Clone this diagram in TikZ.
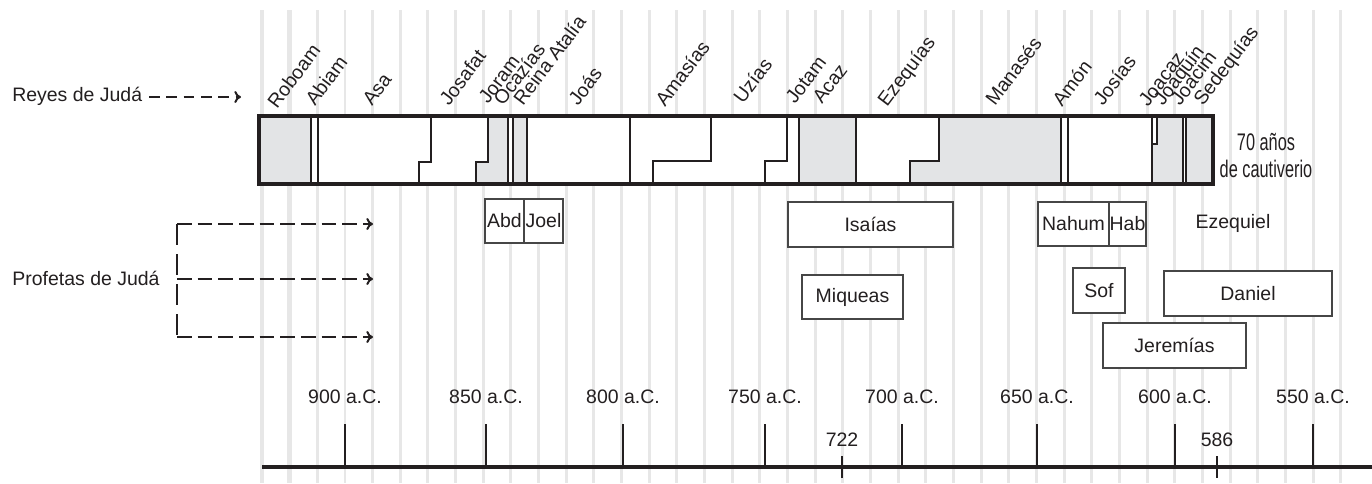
\documentclass[tikz,border=0pt]{standalone}
\usepackage{fontspec}
\setmainfont{Liberation Sans}
\newfontfamily\narrowfont[FakeStretch=0.68]{Liberation Sans}
\usetikzlibrary{arrows.meta}
\definecolor{ink}{RGB}{35,31,32}
\definecolor{gridc}{RGB}{231,231,231}
\definecolor{barfill}{RGB}{227,228,230}
\definecolor{boxline}{RGB}{70,70,70}
\begin{document}
\begin{tikzpicture}[x=0.75pt,y=-0.75pt,
  font=\fontsize{14.6}{17}\selectfont, text=ink,
  gridline/.style={draw=gridc, line width=2.2pt},
  gridthick/.style={draw=gridc, line width=3.6pt},
  kinglbl/.style={rotate=53, anchor=base west, inner sep=0pt},
  yearlbl/.style={inner sep=0pt},
  pbox/.style={draw=boxline, fill=white, line width=0.8pt, minimum height=33pt, inner sep=0pt},
  pboxb/.style={pbox, line width=1.3pt},
  barline/.style={draw=ink, line width=1.4pt},
  barframe/.style={draw=ink, line width=2.4pt},
  graypart/.style={fill=barfill},
  axisline/.style={draw=ink, line width=3pt},
  majortick/.style={draw=ink, line width=2.2pt},
  minortick/.style={draw=ink, line width=2pt},
  reyarrow/.style={draw=ink, line width=1.5pt, dash pattern=on 8pt off 5pt, -{To[length=5pt,width=9pt]}},
  profarrow/.style={draw=ink, line width=1.5pt, dash pattern=on 11pt off 4.5pt, -{To[length=5pt,width=9pt]}},
  profbar/.style={draw=ink, line width=2.2pt, dash pattern=on 16pt off 6.5pt}
]
\useasboundingbox (0,0) rectangle (1372,483);
\fill[white] (0,0) rectangle (1372,483);

% grid
\foreach \i in {2,...,39} \draw[gridline] ({262+27.66*\i},10) -- ({262+27.66*\i},483);
\draw[gridthick] (262,10) -- (262,483);
\draw[gridthick] (289.7,10) -- (289.7,483);

% reign bar
\fill[white] (259,116) rectangle (1213,184);
\fill[graypart] (259,116) rectangle (311,184);
\fill[graypart] (488,116) -- (508,116) -- (508,184) -- (476,184) -- (476,162) -- (488,162) -- cycle;
\fill[graypart] (513,116) rectangle (527,184);
\fill[graypart] (799,116) rectangle (856,184);
\fill[graypart] (939,116) -- (1061,116) -- (1061,184) -- (910,184) -- (910,161) -- (939,161) -- cycle;
\fill[graypart] (1152,116) rectangle (1183,184);
\fill[graypart] (1186,116) rectangle (1213,184);

\draw[barline] (311,116) -- (311,184);
\draw[barline] (318,116) -- (318,184);
\draw[barline] (431,116) -- (431,162) -- (419,162) -- (419,184);
\draw[barline] (488,116) -- (488,162) -- (476,162) -- (476,184);
\draw[barline] (508,116) -- (508,184);
\draw[barline] (513,116) -- (513,184);
\draw[barline] (527,116) -- (527,184);
\draw[barline] (630,116) -- (630,184);
\draw[barline] (711,116) -- (711,161) -- (653,161) -- (653,184);
\draw[barline] (787,116) -- (787,161) -- (765,161) -- (765,184);
\draw[barline] (799,116) -- (799,184);
\draw[barline] (856,116) -- (856,184);
\draw[barline] (939,116) -- (939,161) -- (910,161) -- (910,184);
\draw[barline] (1061,116) -- (1061,184);
\draw[barline] (1068,116) -- (1068,184);
\draw[barline] (1152,116) -- (1152,184);
\draw[draw=ink, line width=1pt, fill=white] (1152,116) rectangle (1157,144);
\draw[barline] (1183,116) -- (1183,184);
\draw[barline] (1186,116) -- (1186,184);
\draw[barframe] (259,116) rectangle (1213,184);

% king labels
\node[kinglbl] (k1) at (277,110) {Roboam};
\node[kinglbl] (k2) at (315,107) {Abiam};
\node[kinglbl] (k3) at (372,107) {Asa};
\node[kinglbl] (k4) at (449,107) {Josafat};
\node[kinglbl] (k5) at (488,105) {Joram};
\node[kinglbl] (k6) at (503,107) {Ocazías};
\node[kinglbl] (k7) at (523,107) {Reina Atalía};
\node[kinglbl] (k8) at (578,107) {Joás};
\node[kinglbl] (k9) at (665,108) {Amasías};
\node[kinglbl] (k10) at (743,105) {Uzías};
\node[kinglbl] (k11) at (795,105) {Jotam};
\node[kinglbl] (k12) at (822,105) {Acaz};
\node[kinglbl] (k13) at (887,108) {Ezequías};
\node[kinglbl] (k14) at (995,107) {Manasés};
\node[kinglbl] (k15) at (1062,108) {Amón};
\node[kinglbl] (k16) at (1103,107) {Josías};
\node[kinglbl] (k17) at (1148,108) {Joacaz};
\node[kinglbl] (k18) at (1163,107) {Joaquín};
\node[kinglbl] (k19) at (1180,107) {Joacim};
\node[kinglbl] (k20) at (1203,107) {Sedequías};

% captivity note
\node[anchor=base, inner sep=0pt, font=\narrowfont\fontsize{18}{20}\selectfont] (cau1) at (1266,150) {70 años};
\node[anchor=base, inner sep=0pt, font=\narrowfont\fontsize{18}{20}\selectfont] (cau2) at (1266,177) {de cautiverio};

% side labels and arrows
\node[anchor=west, inner sep=0pt] (reyes) at (12,96) {Reyes de Judá};
\coordinate (reyesend) at (241,97);
\draw[reyarrow] ([xshift=5pt]reyes.east |- reyesend) -- (reyesend);

\node[inner sep=0pt] (prof) at (86,278) {Profetas de Judá};
\coordinate (pt) at (177,224);
\coordinate (pm) at (177,279);
\coordinate (pb) at (177,337);
\coordinate (at) at (373,224);
\coordinate (am) at (373,279);
\coordinate (ab) at (373,337);
\draw[profbar] (pt) -- (pb);
\draw[profarrow] (pt) -- (at);
\draw[profarrow] (pm) -- (am);
\draw[profarrow] (pb) -- (ab);

% prophets
\node[pbox, minimum width=29.25pt, minimum height=33pt] (abd) at (504.5,221) {Abd};
\node[pbox, minimum width=29.25pt, minimum height=33pt] (joel) at (543.5,221) {Joel};
\node[pboxb, minimum width=123.75pt, minimum height=33.75pt] (isaias) at (870.5,224.5) {Isaías};
\node[pbox, line width=1pt, minimum width=75.75pt, minimum height=33pt] (miqueas) at (852.5,297) {Miqueas};
\node[pbox, minimum width=53.25pt, minimum height=33pt] (nahum) at (1073.5,224) {Nahum};
\node[pbox, minimum width=27.75pt, minimum height=33pt] (hab) at (1127.5,224) {Hab};
\node[inner sep=0pt] (ezequiel) at (1233,223) {Ezequiel};
\node[pbox, minimum width=39pt, minimum height=33.75pt] (sof) at (1099,290.5) {Sof};
\node[pboxb, minimum width=126pt, minimum height=33.75pt] (daniel) at (1248,293.5) {Daniel};
\node[pboxb, minimum width=107.25pt, minimum height=33.75pt] (jeremias) at (1174.5,345.5) {Jeremías};

% time axis
\draw[axisline] (262,467) -- (1372,467);
\foreach \x/\l in {345/900, 486/850, 623/800, 765/750, 902/700, 1037/650, 1175/600, 1313/550} {
  \draw[majortick] (\x,424) -- (\x,467);
  \node[yearlbl] (y\l) at (\x,397) {\l{} a.C.};
}
\draw[minortick] (842,456) -- (842,478);
\node[yearlbl] (y722) at (842,440) {722};
\draw[minortick] (1217,456) -- (1217,478);
\node[yearlbl] (y586) at (1217,440) {586};
\end{tikzpicture}
\end{document}
